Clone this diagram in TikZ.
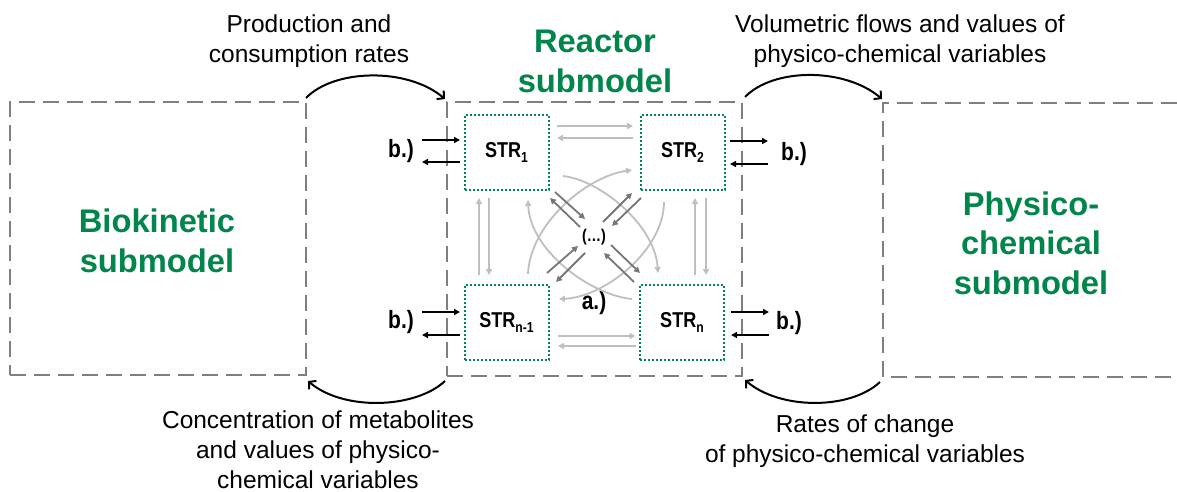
\documentclass[tikz,border=0pt]{standalone}
\usepackage{fontspec}
\setmainfont{Liberation Sans}
\newfontfamily\narrowsans[FakeStretch=0.84]{Liberation Sans}
\usetikzlibrary{arrows.meta,calc}
\definecolor{tgreen}{RGB}{0,133,75}
\definecolor{framegray}{RGB}{127,127,127}
\definecolor{lightarrow}{RGB}{191,191,191}
\definecolor{darkarrow}{RGB}{118,118,118}
\newcommand\strsub[1]{\raisebox{-5pt}{\fontsize{14.5}{14.5}\selectfont #1}}
\begin{document}
\begin{tikzpicture}[x=1pt,y=-1pt,
  dbox/.style={draw=framegray, line width=2pt, dash pattern=on 16pt off 8pt, outer sep=0pt, inner sep=0pt},
  strbox/.style={draw=tgreen, line width=2pt, dash pattern=on 2pt off 2pt, minimum width=84pt, minimum height=75pt, inner sep=0pt, outer sep=0pt, font=\narrowsans\fontsize{21.5}{22}\selectfont\bfseries},
  greentitle/.style={text=tgreen, font=\fontsize{32.7}{39.5}\selectfont\bfseries, align=center, inner sep=0pt},
  txt/.style={font=\fontsize{24.5}{30}\selectfont, align=center, inner sep=0pt},
  lbl/.style={font=\narrowsans\fontsize{25}{25}\selectfont\bfseries, inner sep=0pt},
  arcarrow/.style={line width=2pt, -{Straight Barb[length=5pt,width=11pt]}},
  blk/.style={line width=1.6pt, -{Triangle[length=6pt,width=6pt]}},
  lg/.style={draw=lightarrow, line width=1.8pt, -{Triangle[length=6pt,width=6pt]}},
  dg/.style={draw=darkarrow, line width=1.8pt, -{Triangle[length=6pt,width=6pt]}},
]
\useasboundingbox (0,0) rectangle (1177,492);

% submodel frames
\node[dbox, minimum width=296pt, minimum height=273pt] (bio) at (158,238.5) {};
\node[dbox, minimum width=295pt, minimum height=274pt] (reactor) at (594.5,239) {};
\coordinate (physnw) at (883,103);
\coordinate (physsw) at (883,377);
\draw[draw=framegray, line width=2pt, dash pattern=on 16pt off 8pt] (1177,103) -- (physnw) -- (physsw) -- (1177,377);

% titles
\node[greentitle] (tbio) at (157,241) {Biokinetic\\submodel};
\node[greentitle] (treac) at (595,61.5) {Reactor\\submodel};
\node[greentitle] (tphys) at (1031,243) {Physico-\\chemical\\submodel};

% exchange labels
\node[txt] (t1) at (309,41) {Production and\\consumption rates};
\node[txt] (t2) at (900,41) {Volumetric flows and values of\\physico-chemical variables};
\node[txt] (t3) at (318,450) {Concentration of metabolites\\and values of physico-\\chemical variables};
\node[txt] (t4) at (865,441) {Rates of change\\of physico-chemical variables};

% exchange arcs
\draw[arcarrow] ([yshift=4pt]bio.north east) .. controls +(28,-29) and +(-38,-32) .. ([shift={(-2,-3)}]reactor.north west);
\draw[arcarrow] ([shift={(3,-5)}]reactor.north east) .. controls +(28,-29) and +(-38,-32) .. ([shift={(-1,-4)}]physnw);
\draw[arcarrow] ([shift={(-2,5)}]reactor.south west) .. controls +(-30,28) and +(35,30) .. ([shift={(2,6)}]bio.south east);
\draw[arcarrow] ([shift={(-3,5)}]physsw) .. controls +(-30,28) and +(35,30) .. ([shift={(3,4)}]reactor.south east);

% tanks
\node[strbox] (s1) at (506.5,152.5) {STR\strsub{1}};
\node[strbox] (s2) at (682.5,152.5) {STR\strsub{2}};
\node[strbox] (s3) at (506.5,322.5) {STR\strsub{n-1}};
\node[strbox] (s4) at (682,322.5) {STR\strsub{n}};
\node[font=\narrowsans\fontsize{17}{17}\selectfont\bfseries, inner sep=0pt] (d) at (594,237) {(…)};
\node[lbl] (a) at (594,303) {a.)};

% b.) labels and black arrows
\node[lbl] (b1) at (401,151) {b.)};
\node[lbl] (b3) at (401,322) {b.)};
\node[lbl] (b2) at (794,154) {b.)};
\node[lbl] (b4) at (789,323) {b.)};
\draw[blk] ([shift={(-42.5,-12.5)}]s1.west) -- ([shift={(-4.5,-12.5)}]s1.west);
\draw[blk] ([shift={(-4.5,9.5)}]s1.west) -- ([shift={(-42.5,9.5)}]s1.west);
\draw[blk] ([shift={(-42.5,-10.5)}]s3.west) -- ([shift={(-4.5,-10.5)}]s3.west);
\draw[blk] ([shift={(-4.5,12.5)}]s3.west) -- ([shift={(-42.5,12.5)}]s3.west);
\draw[blk] ([shift={(5.5,-11.5)}]s2.east) -- ([shift={(43.5,-11.5)}]s2.east);
\draw[blk] ([shift={(43.5,11.5)}]s2.east) -- ([shift={(5.5,11.5)}]s2.east);
\draw[blk] ([shift={(7,-10.5)}]s4.east) -- ([shift={(45,-10.5)}]s4.east);
\draw[blk] ([shift={(45,12.5)}]s4.east) -- ([shift={(7,12.5)}]s4.east);

% light gray straight exchanges
\draw[lg] ([shift={(8.5,-26.5)}]s1.east) -- ([shift={(-7.5,-26.5)}]s2.west);
\draw[lg] ([shift={(-7.5,-14.5)}]s2.west) -- ([shift={(8.5,-14.5)}]s1.east);
\draw[lg] ([shift={(9.5,13.5)}]s3.east) -- ([shift={(-4.5,13.5)}]s4.west);
\draw[lg] ([shift={(-4.5,23.5)}]s4.west) -- ([shift={(9.5,23.5)}]s3.east);
\draw[lg] ([shift={(-27.5,-10)}]s3.north) -- ([shift={(-27.5,8)}]s1.south);
\draw[lg] ([shift={(-17.5,8)}]s1.south) -- ([shift={(-17.5,-10)}]s3.north);
\draw[lg] ([shift={(13,-10)}]s4.north) -- ([shift={(12.5,8)}]s2.south);
\draw[lg] ([shift={(23.5,8)}]s2.south) -- ([shift={(24,-10)}]s4.north);

% light gray crossing curves
\draw[lg] ($(d)+(-31,-61)$) .. controls ($(d)+(6,-57)$) and ($(d)+(61,-12)$) .. ($(d)+(64,36)$);
\draw[lg] ($(d)+(38,62)$) .. controls ($(d)+(-4,58)$) and ($(d)+(-64,13)$) .. ($(d)+(-66,-37)$);
\draw[lg] ($(d)+(-66,37)$) .. controls ($(d)+(-64,-12)$) and ($(d)+(-9,-60)$) .. ($(d)+(38,-67)$);
\draw[lg] ($(d)+(70,-35)$) .. controls ($(d)+(70,13)$) and ($(d)+(11,60)$) .. ($(d)+(-35,62)$);

% dark gray diagonal exchanges with (...)
\draw[dg] ($(d)+(-14,-10)$) -- ($(d)+(-44,-39)$);
\draw[dg] ($(d)+(-39,-45)$) -- ($(d)+(-9,-18)$);
\draw[dg] ($(d)+(9,-15)$) -- ($(d)+(38,-44)$);
\draw[dg] ($(d)+(47,-39)$) -- ($(d)+(18,-11)$);
\draw[dg] ($(d)+(-47,36)$) -- ($(d)+(-16,9)$);
\draw[dg] ($(d)+(-9,16)$) -- ($(d)+(-38,45)$);
\draw[dg] ($(d)+(17,8)$) -- ($(d)+(46,36)$);
\draw[dg] ($(d)+(40,45)$) -- ($(d)+(10,16)$);
\end{tikzpicture}
\end{document}
